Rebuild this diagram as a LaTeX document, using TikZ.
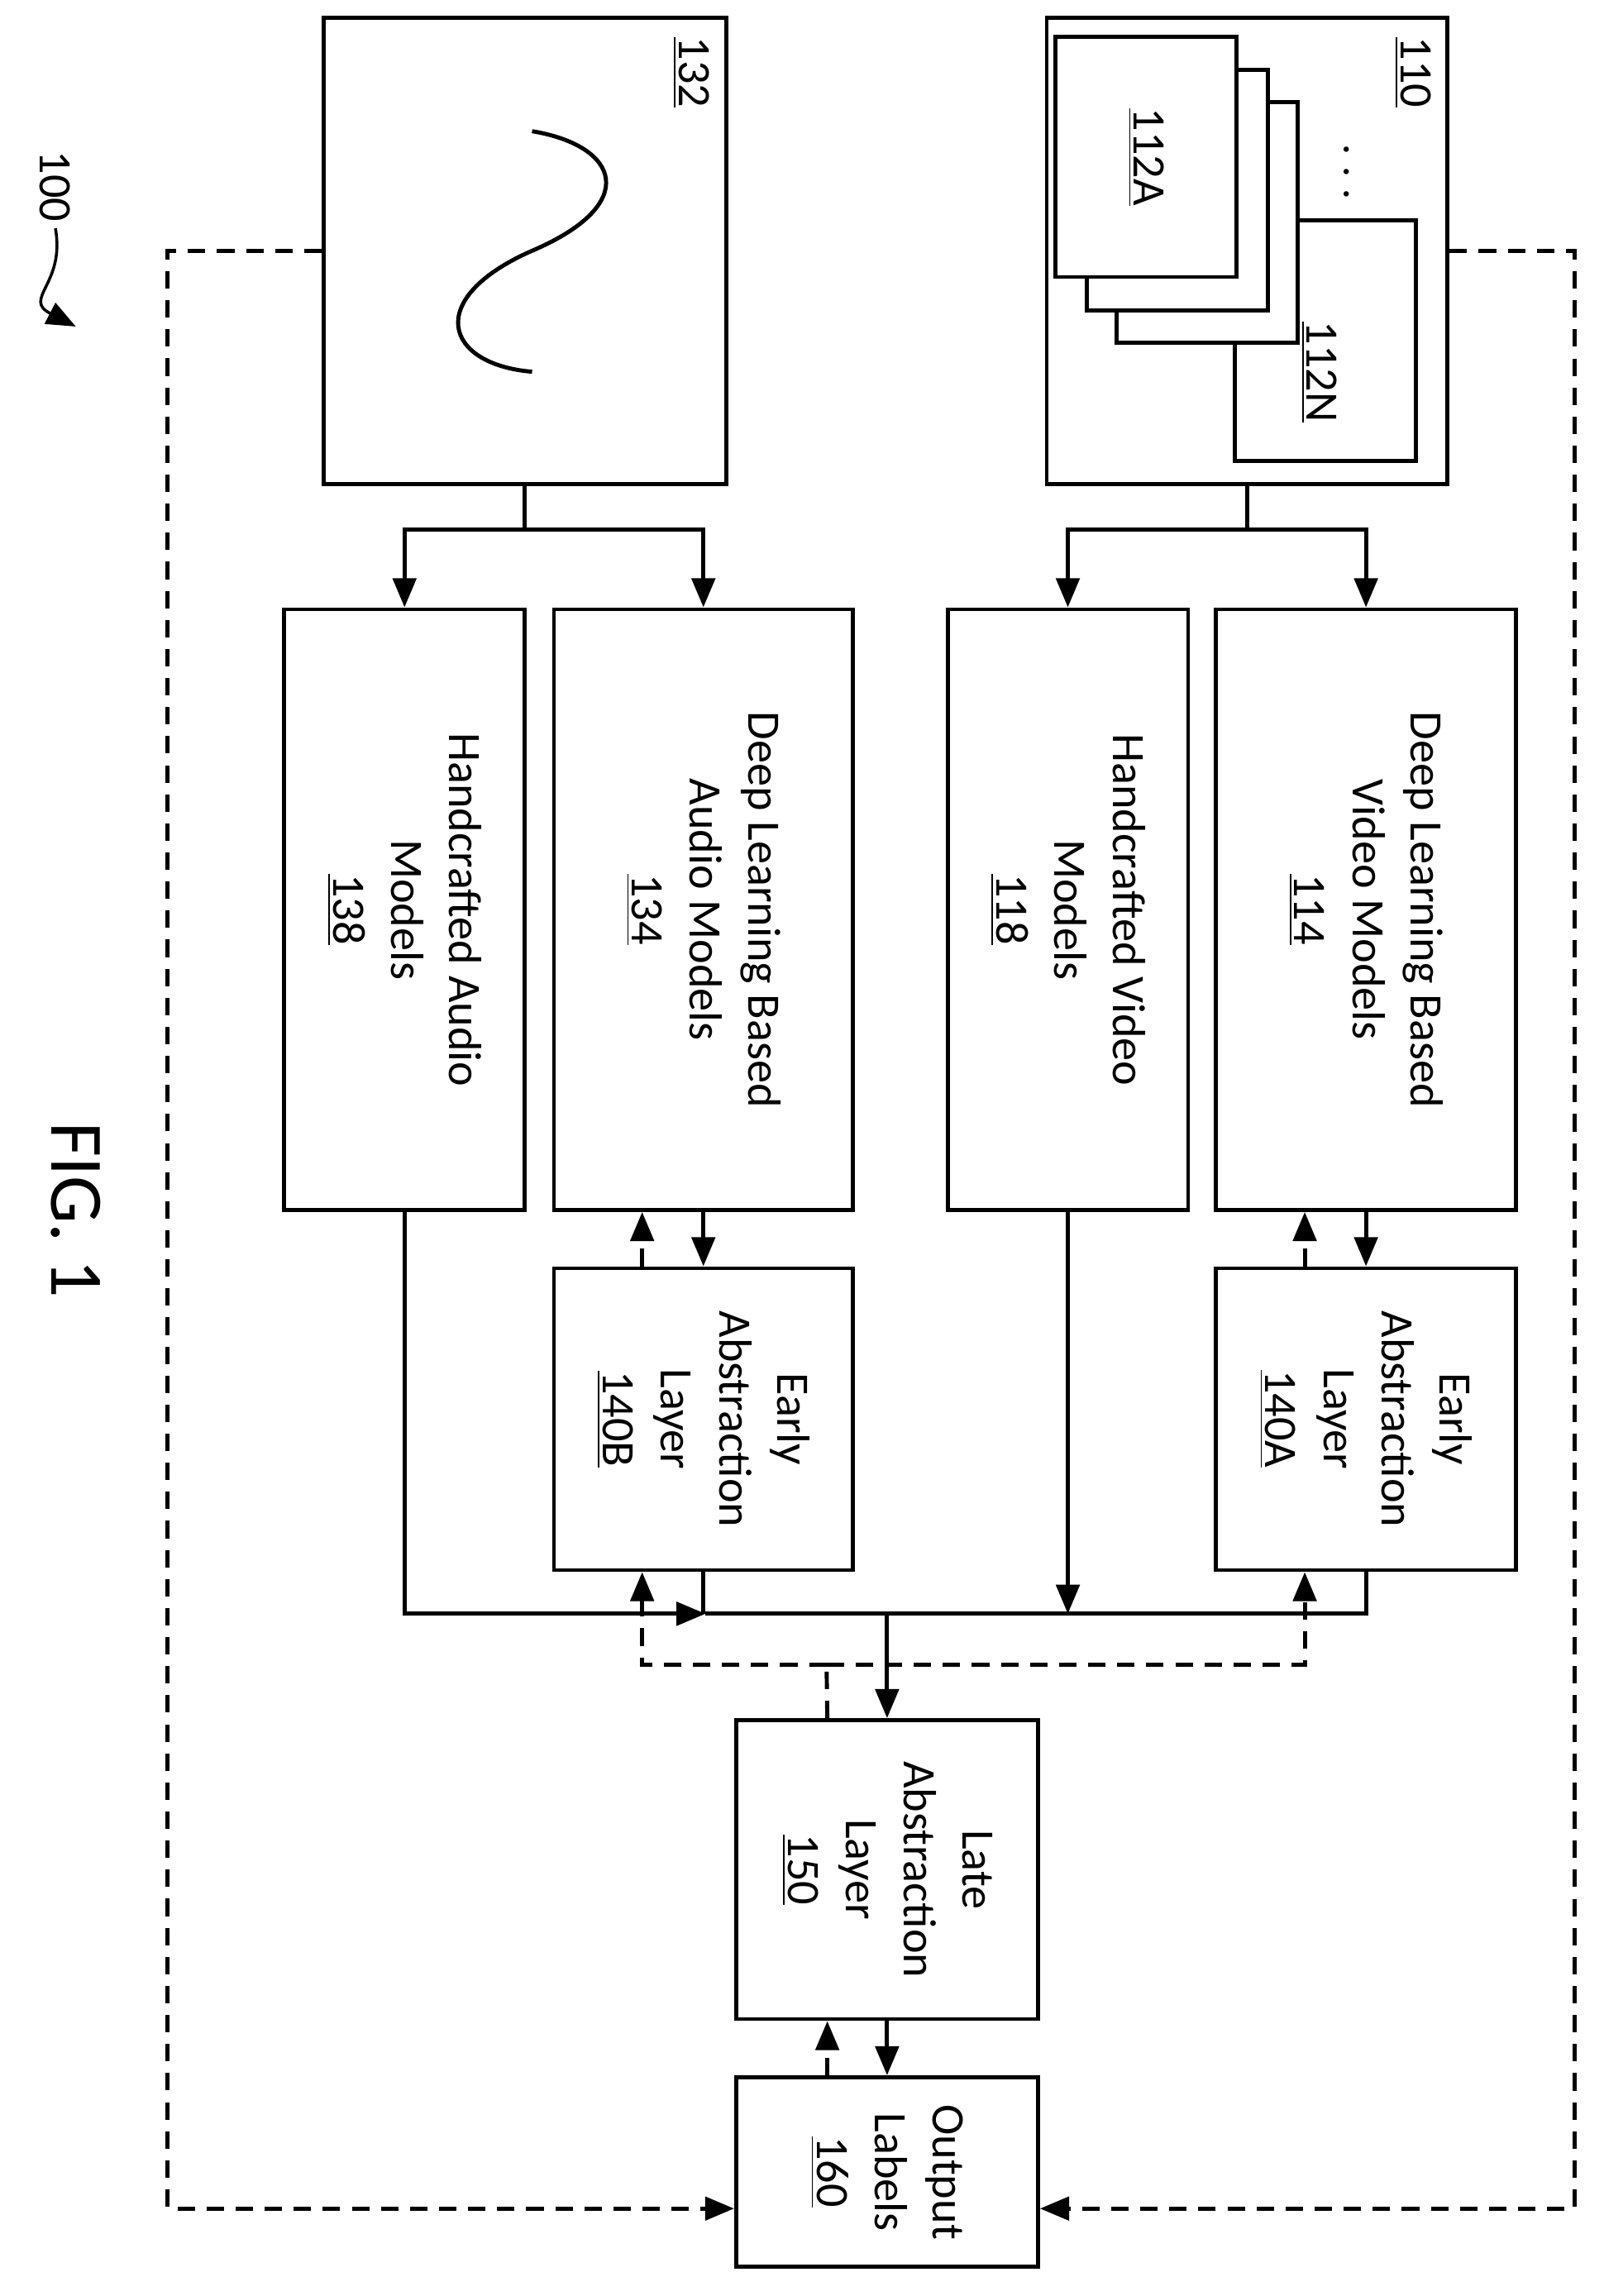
\documentclass[tikz,border=0pt]{standalone}
\usepackage{fontspec}
\setmainfont{Carlito}
\usetikzlibrary{arrows.meta, calc}
\def\u{0.5016pt}
\begin{document}
\begin{tikzpicture}[x=0.5016pt, y=-0.5016pt, >={Triangle[length=10pt,width=8pt]},
    line width=1.4pt,
    every node/.style={font=\fontsize{16}{20}\selectfont},
    blk/.style 2 args={draw, rotate=-90, align=center, fill=white, inner sep=0pt,
        minimum width=#1*\u, minimum height=#2*\u},
    lbl/.style={rotate=-90, inner sep=0pt},
    dsh/.style={dashed, dash pattern=on 6pt off 4pt}]
    \useasboundingbox (0,0) rectangle (1100,1575);
    % sources
    \node[blk={320}{275}] (vid) at (855.5,172) {};
    \node[lbl, anchor=north west] at (983,24) {\underline{110}};
    \node[blk={165}{124}] (fn) at (909,233.5) {};
    \node[blk={165}{124}] (fc) at (828,152.5) {};
    \node[blk={165}{124}] (fb) at (807.5,130.5) {};
    \node[blk={165}{124}] (fa) at (786,107.5) {\underline{112A}};
    \node[lbl] at (905,255) {\underline{112N}};
    \node[lbl] at (923,118) {$\cdots$};
    \node[blk={320}{276}] (aud) at (360,172) {};
    \node[lbl, anchor=north west] at (488,24) {\underline{132}};
    \draw (365,90) .. controls (425,100) and (440,140) .. (365,172)
        .. controls (290,205) and (305,250) .. (365,255);
    % models
    \node[blk={412}{206}] (dlv) at (937,624) {Deep Learning Based\\Video Models\\\underline{114}};
    \node[blk={412}{165}] (hv) at (732.5,624) {Handcrafted Video\\Models\\\underline{118}};
    \node[blk={412}{205}] (dla) at (482.5,624) {Deep Learning Based\\Audio Models\\\underline{134}};
    \node[blk={412}{165}] (ha) at (277.5,624) {Handcrafted Audio\\Models\\\underline{138}};
    \node[blk={207}{206}] (eaa) at (937,973.5) {Early\\Abstraction\\Layer\\\underline{140A}};
    \node[blk={207}{205}] (eab) at (482.5,973.5) {Early\\Abstraction\\Layer\\\underline{140B}};
    \node[blk={205}{207}] (late) at (608.5,1282.5) {Late\\Abstraction\\Layer\\\underline{150}};
    \node[blk={130}{207}] (out) at (608.5,1490) {Output\\Labels\\\underline{160}};
    \node[lbl] (ref) at (38,128) {100};
    \node[lbl, font=\fontsize{26}{30}\selectfont] (fig) at (52,830) {FIG. 1};
    \draw[->, line width=1pt] ([yshift=-3*\u]ref.east) .. controls (45,195) and (15,205) .. (52,224);

    \draw[->] (vid.east) -- ++(0,30) -| (dlv.west);
    \draw[->] (vid.east) -- ++(0,30) -| (hv.west);
    \draw[->] (aud.east) -- ++(0,30) -| (dla.west);
    \draw[->] (aud.east) -- ++(0,30) -| (ha.west);
    \draw[->] (dlv.east) -- (eaa.west);
    \draw[->] (dla.east) -- (eab.west);
    \draw[dsh, ->] ([xshift=-42*\u]eaa.west) -- ([xshift=-42*\u]dlv.east);
    \draw[dsh, ->] ([xshift=-42*\u]eab.west) -- ([xshift=-42*\u]dla.east);
    % bus
    \coordinate (bus) at (608.5,1107);
    \draw[->] (ha.east) |- (484,1107);
    \draw (484,1107) -- (eaa.east |- bus) -- (eaa.east);
    \draw (eab.east) -- (eab.east |- bus);
    \draw[->] (hv.east) -- (hv.east |- bus);
    \draw[->] (bus) -- (late.west);
    \coordinate (dbus) at (567,1142);
    \draw[dsh] ([xshift=-41*\u]late.west) -- (dbus);
    \draw[dsh, ->] (dbus) -| ([xshift=-42*\u]eaa.east);
    \draw[dsh, ->] (dbus) -| ([xshift=-42*\u]eab.east);
    \draw[->] (late.east) -- (out.west);
    \draw[dsh, ->] ([xshift=-41*\u]out.west) -- ([xshift=-41*\u]late.east);
    % feedback to sources
    \draw[dsh, ->] (aud.south) -- (115,172) |- ([yshift=-25*\u]out.south);
    \draw[dsh, ->] (vid.north) -- (1080,172) |- ([yshift=-25*\u]out.north);
\end{tikzpicture}
\end{document}
